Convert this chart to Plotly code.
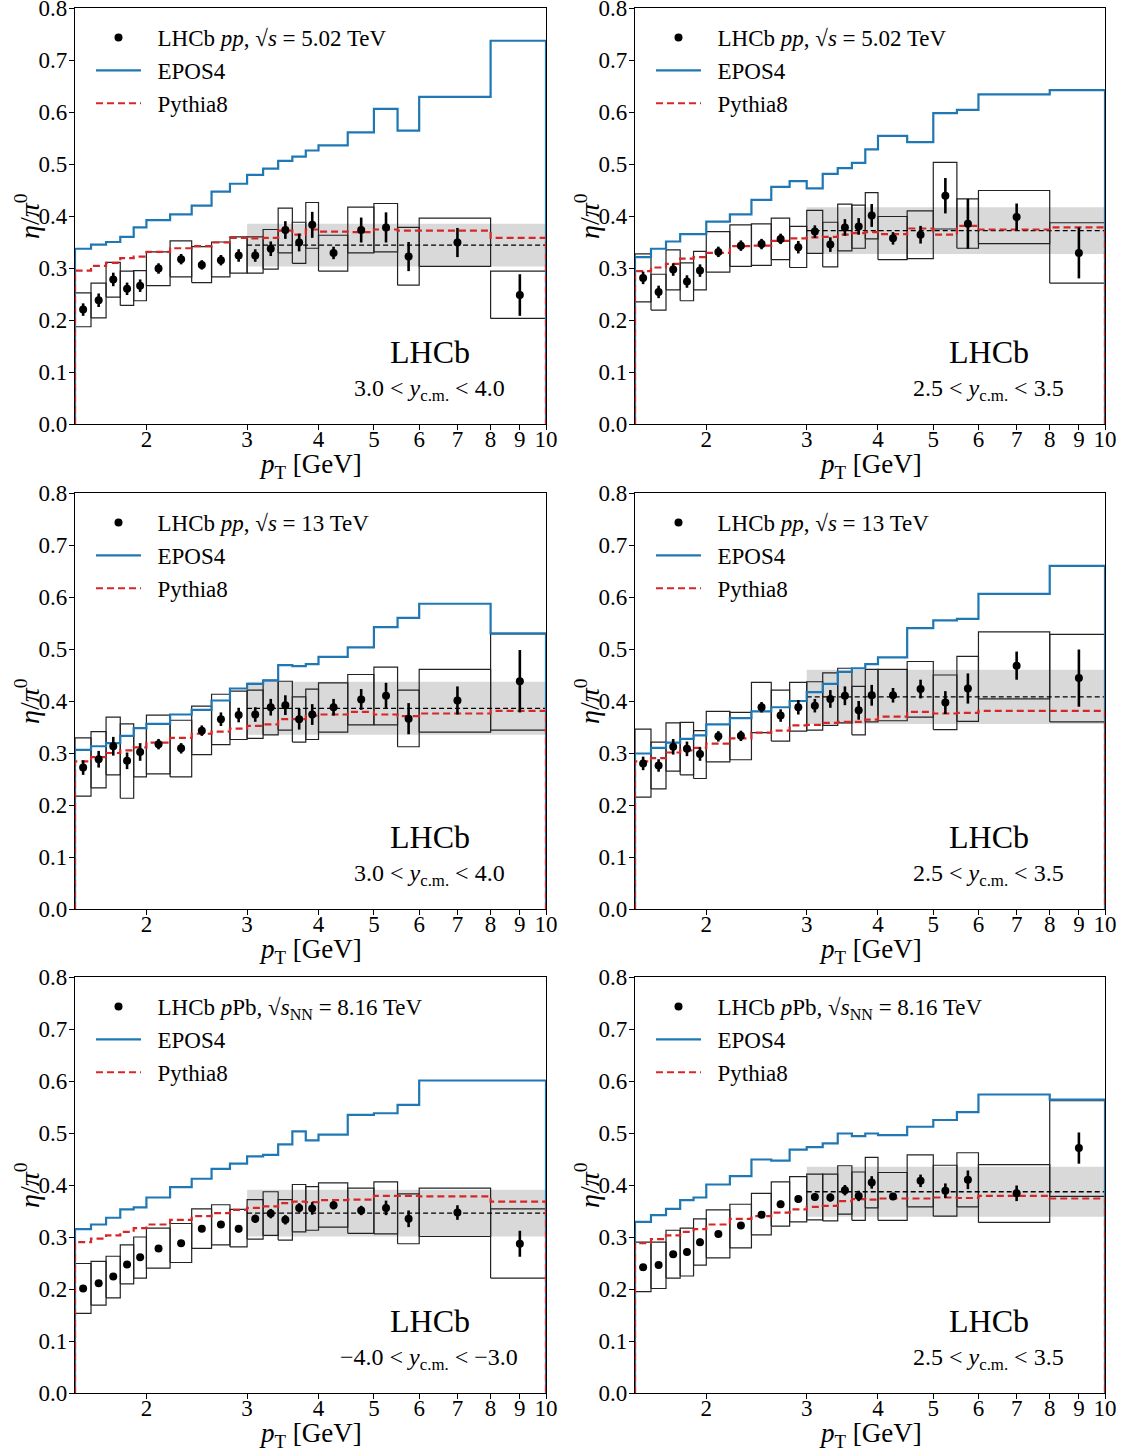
import math
import plotly.graph_objects as go

# ---------------- data ----------------
edges = [1.5, 1.6, 1.7, 1.8, 1.9, 2.0, 2.2, 2.4, 2.6, 2.8, 3.0, 3.2, 3.4, 3.6, 3.8, 4.0, 4.5, 5.0, 5.5, 6.0, 8.0, 10.0]
centers = [1.55, 1.65, 1.75, 1.85, 1.95, 2.1, 2.3, 2.5, 2.7, 2.9, 3.1, 3.3, 3.5, 3.7, 3.9, 4.25, 4.75, 5.25, 5.75, 7.0, 9.0]
x_tick_vals = [2, 3, 4, 5, 6, 7, 8, 9, 10]
x_tick_text = ["2", "3", "4", "5", "6", "7", "8", "9", "10"]
y_tick_vals = [0.0, 0.1, 0.2, 0.3, 0.4, 0.5, 0.6, 0.7, 0.8]
fit_range = [3.0, 10.0]

x_title = "<i>p</i><sub>T</sub> [GeV]"
y_title = "<i>η</i>/<i>π</i><sup>0</sup>"
legend_labels = [
    "&nbsp;&nbsp;LHCb <i>pp</i>, √<i>s</i> = 5.02 TeV",
    "&nbsp;&nbsp;LHCb <i>pp</i>, √<i>s</i> = 5.02 TeV",
    "&nbsp;&nbsp;LHCb <i>pp</i>, √<i>s</i> = 13 TeV",
    "&nbsp;&nbsp;LHCb <i>pp</i>, √<i>s</i> = 13 TeV",
    "&nbsp;&nbsp;LHCb <i>p</i>Pb, √<i>s</i><sub>NN</sub> = 8.16 TeV",
    "&nbsp;&nbsp;LHCb <i>p</i>Pb, √<i>s</i><sub>NN</sub> = 8.16 TeV",
]
model_labels = ["&nbsp;&nbsp;EPOS4", "&nbsp;&nbsp;Pythia8"]
rapidity_labels = [
    "3.0 &lt; <i>y</i><sub>c.m.</sub> &lt; 4.0",
    "2.5 &lt; <i>y</i><sub>c.m.</sub> &lt; 3.5",
    "3.0 &lt; <i>y</i><sub>c.m.</sub> &lt; 4.0",
    "2.5 &lt; <i>y</i><sub>c.m.</sub> &lt; 3.5",
    "−4.0 &lt; <i>y</i><sub>c.m.</sub> &lt; −3.0",
    "2.5 &lt; <i>y</i><sub>c.m.</sub> &lt; 3.5",
]

# panel 1: pp 5.02 TeV, 3.0<y<4.0
val_1 = [0.220, 0.238, 0.278, 0.260, 0.266, 0.299, 0.317, 0.306, 0.315, 0.324, 0.324, 0.337, 0.373, 0.349, 0.383, 0.329, 0.373, 0.378, 0.322, 0.349, 0.248]
stat_1 = [0.012, 0.013, 0.013, 0.012, 0.012, 0.010, 0.010, 0.009, 0.010, 0.012, 0.012, 0.014, 0.017, 0.017, 0.025, 0.012, 0.024, 0.029, 0.028, 0.028, 0.040]
syst_hi_1 = [0.252, 0.271, 0.311, 0.294, 0.295, 0.331, 0.352, 0.341, 0.350, 0.360, 0.360, 0.374, 0.415, 0.388, 0.426, 0.363, 0.417, 0.424, 0.378, 0.396, 0.294]
syst_lo_1 = [0.187, 0.204, 0.244, 0.228, 0.237, 0.266, 0.283, 0.272, 0.283, 0.290, 0.290, 0.298, 0.329, 0.309, 0.338, 0.294, 0.329, 0.331, 0.267, 0.303, 0.203]
epos_1 = [0.337, 0.345, 0.350, 0.360, 0.378, 0.392, 0.403, 0.420, 0.447, 0.462, 0.479, 0.491, 0.506, 0.514, 0.526, 0.536, 0.561, 0.606, 0.564, 0.629, 0.737]
pythia_1 = [0.295, 0.304, 0.310, 0.319, 0.322, 0.331, 0.338, 0.342, 0.349, 0.358, 0.357, 0.358, 0.372, 0.364, 0.374, 0.370, 0.369, 0.374, 0.372, 0.372, 0.358]

# panel 2: pp 5.02 TeV, 2.5<y<3.5
val_2 = [0.281, 0.254, 0.297, 0.274, 0.295, 0.331, 0.343, 0.346, 0.356, 0.340, 0.370, 0.345, 0.378, 0.380, 0.401, 0.357, 0.364, 0.439, 0.385, 0.398, 0.329]
stat_2 = [0.012, 0.012, 0.012, 0.012, 0.012, 0.010, 0.010, 0.010, 0.010, 0.012, 0.012, 0.014, 0.016, 0.016, 0.022, 0.012, 0.017, 0.034, 0.048, 0.026, 0.049]
syst_hi_2 = [0.327, 0.288, 0.335, 0.310, 0.332, 0.370, 0.383, 0.385, 0.396, 0.380, 0.411, 0.388, 0.423, 0.421, 0.445, 0.399, 0.410, 0.503, 0.433, 0.449, 0.387]
syst_lo_2 = [0.235, 0.219, 0.258, 0.237, 0.258, 0.292, 0.303, 0.305, 0.316, 0.301, 0.328, 0.302, 0.333, 0.338, 0.356, 0.316, 0.318, 0.375, 0.338, 0.347, 0.271]
epos_2 = [0.321, 0.337, 0.351, 0.365, 0.365, 0.389, 0.403, 0.431, 0.456, 0.467, 0.453, 0.481, 0.492, 0.502, 0.528, 0.554, 0.542, 0.598, 0.604, 0.634, 0.642]
pythia_2 = [0.294, 0.301, 0.308, 0.318, 0.321, 0.329, 0.342, 0.343, 0.352, 0.357, 0.359, 0.360, 0.364, 0.367, 0.369, 0.365, 0.376, 0.364, 0.381, 0.374, 0.378]

# panel 3: pp 13 TeV, 3.0<y<4.0
val_3 = [0.272, 0.288, 0.313, 0.285, 0.302, 0.317, 0.309, 0.343, 0.365, 0.373, 0.374, 0.388, 0.392, 0.365, 0.374, 0.388, 0.403, 0.410, 0.366, 0.401, 0.438]
stat_3 = [0.014, 0.016, 0.018, 0.016, 0.017, 0.010, 0.010, 0.010, 0.013, 0.014, 0.014, 0.016, 0.019, 0.020, 0.020, 0.016, 0.020, 0.025, 0.030, 0.027, 0.060]
syst_hi_3 = [0.329, 0.341, 0.369, 0.356, 0.348, 0.373, 0.363, 0.390, 0.413, 0.419, 0.421, 0.440, 0.438, 0.408, 0.423, 0.435, 0.451, 0.465, 0.421, 0.461, 0.529]
syst_lo_3 = [0.217, 0.233, 0.258, 0.213, 0.254, 0.260, 0.254, 0.297, 0.316, 0.326, 0.328, 0.335, 0.344, 0.321, 0.326, 0.340, 0.354, 0.354, 0.312, 0.340, 0.344]
epos_3 = [0.306, 0.313, 0.319, 0.333, 0.348, 0.356, 0.374, 0.383, 0.401, 0.424, 0.433, 0.439, 0.469, 0.467, 0.471, 0.485, 0.503, 0.542, 0.560, 0.587, 0.530]
pythia_3 = [0.284, 0.292, 0.300, 0.305, 0.311, 0.320, 0.329, 0.337, 0.341, 0.347, 0.352, 0.355, 0.365, 0.365, 0.372, 0.374, 0.379, 0.374, 0.371, 0.376, 0.381]

# panel 4: pp 13 TeV, 2.5<y<3.5
val_4 = [0.280, 0.276, 0.312, 0.308, 0.298, 0.332, 0.333, 0.388, 0.372, 0.388, 0.391, 0.404, 0.410, 0.382, 0.411, 0.411, 0.423, 0.397, 0.424, 0.468, 0.444]
stat_4 = [0.013, 0.012, 0.015, 0.014, 0.013, 0.010, 0.010, 0.010, 0.012, 0.014, 0.013, 0.017, 0.018, 0.018, 0.020, 0.014, 0.018, 0.022, 0.029, 0.027, 0.055]
syst_hi_4 = [0.346, 0.321, 0.358, 0.359, 0.343, 0.380, 0.378, 0.436, 0.421, 0.436, 0.437, 0.454, 0.463, 0.428, 0.461, 0.461, 0.476, 0.450, 0.486, 0.533, 0.528]
syst_lo_4 = [0.215, 0.231, 0.265, 0.258, 0.251, 0.283, 0.287, 0.339, 0.323, 0.342, 0.344, 0.353, 0.358, 0.335, 0.360, 0.362, 0.369, 0.345, 0.361, 0.404, 0.360]
epos_4 = [0.299, 0.310, 0.320, 0.327, 0.334, 0.355, 0.367, 0.380, 0.388, 0.400, 0.417, 0.433, 0.456, 0.463, 0.471, 0.484, 0.540, 0.555, 0.558, 0.606, 0.660]
pythia_4 = [0.284, 0.290, 0.301, 0.305, 0.310, 0.318, 0.328, 0.339, 0.343, 0.353, 0.354, 0.358, 0.360, 0.360, 0.364, 0.370, 0.379, 0.376, 0.377, 0.381, 0.381]

# panel 5: pPb 8.16 TeV, -4.0<y<-3.0
val_5 = [0.201, 0.211, 0.224, 0.247, 0.261, 0.278, 0.288, 0.316, 0.324, 0.316, 0.335, 0.345, 0.333, 0.356, 0.355, 0.361, 0.351, 0.356, 0.335, 0.347, 0.287]
stat_5 = [0.005, 0.005, 0.005, 0.006, 0.006, 0.005, 0.005, 0.006, 0.006, 0.007, 0.008, 0.009, 0.009, 0.009, 0.012, 0.008, 0.009, 0.014, 0.016, 0.014, 0.025]
syst_hi_5 = [0.249, 0.253, 0.263, 0.285, 0.300, 0.317, 0.326, 0.354, 0.362, 0.353, 0.372, 0.387, 0.372, 0.401, 0.397, 0.404, 0.394, 0.406, 0.383, 0.394, 0.354]
syst_lo_5 = [0.153, 0.169, 0.183, 0.210, 0.221, 0.240, 0.251, 0.278, 0.285, 0.281, 0.296, 0.303, 0.294, 0.310, 0.313, 0.319, 0.307, 0.306, 0.287, 0.301, 0.221]
epos_5 = [0.315, 0.324, 0.337, 0.353, 0.357, 0.376, 0.396, 0.412, 0.431, 0.441, 0.455, 0.458, 0.478, 0.503, 0.486, 0.497, 0.535, 0.538, 0.554, 0.601, 0.601]
pythia_5 = [0.290, 0.297, 0.303, 0.310, 0.317, 0.324, 0.333, 0.340, 0.346, 0.352, 0.356, 0.359, 0.365, 0.368, 0.367, 0.371, 0.372, 0.379, 0.379, 0.378, 0.368]

# panel 6: pPb 8.16 TeV, 2.5<y<3.5
val_6 = [0.242, 0.246, 0.267, 0.271, 0.290, 0.306, 0.322, 0.343, 0.363, 0.373, 0.377, 0.376, 0.390, 0.379, 0.405, 0.378, 0.408, 0.389, 0.410, 0.384, 0.471]
stat_6 = [0.006, 0.006, 0.006, 0.006, 0.007, 0.005, 0.005, 0.006, 0.007, 0.007, 0.007, 0.008, 0.010, 0.010, 0.012, 0.007, 0.012, 0.014, 0.018, 0.015, 0.030]
syst_hi_6 = [0.290, 0.290, 0.313, 0.317, 0.335, 0.352, 0.363, 0.384, 0.406, 0.416, 0.421, 0.421, 0.437, 0.425, 0.453, 0.424, 0.458, 0.438, 0.462, 0.439, 0.562]
syst_lo_6 = [0.195, 0.201, 0.221, 0.225, 0.246, 0.260, 0.279, 0.304, 0.321, 0.329, 0.333, 0.331, 0.344, 0.332, 0.356, 0.332, 0.358, 0.340, 0.358, 0.328, 0.378]
epos_6 = [0.329, 0.342, 0.354, 0.371, 0.376, 0.401, 0.417, 0.449, 0.447, 0.468, 0.473, 0.480, 0.499, 0.494, 0.499, 0.496, 0.512, 0.525, 0.540, 0.574, 0.564]
pythia_6 = [0.288, 0.296, 0.303, 0.310, 0.315, 0.324, 0.335, 0.340, 0.347, 0.353, 0.358, 0.360, 0.369, 0.373, 0.372, 0.374, 0.374, 0.376, 0.375, 0.379, 0.374]

# constant fit (high pT) value and its uncertainty for each panel
fit_val = [0.344, 0.372, 0.386, 0.408, 0.346, 0.387]
fit_err = [0.041, 0.045, 0.051, 0.052, 0.045, 0.048]

vals = [val_1, val_2, val_3, val_4, val_5, val_6]
stats = [stat_1, stat_2, stat_3, stat_4, stat_5, stat_6]
syst_his = [syst_hi_1, syst_hi_2, syst_hi_3, syst_hi_4, syst_hi_5, syst_hi_6]
syst_los = [syst_lo_1, syst_lo_2, syst_lo_3, syst_lo_4, syst_lo_5, syst_lo_6]
epos = [epos_1, epos_2, epos_3, epos_4, epos_5, epos_6]
pythia = [pythia_1, pythia_2, pythia_3, pythia_4, pythia_5, pythia_6]

# ---------------- layout geometry ----------------
W, H = 1125, 1456
col_px = [(75, 546), (635, 1105)]
row_px = [(8, 424), (493, 909), (977, 1393)]

FONT = "Liberation Serif"
BLUE = "#1f77b4"
RED = "#d62728"

fig = go.Figure()


def stairs(e, v):
    xs = [e[0]] + list(e) + [e[-1]]
    ys = [0.0] + list(v) + [v[-1], 0.0]
    return xs, ys


layout_axes = {}
annotations = []
for i in range(6):
    r, c = divmod(i, 2)
    n = i + 1
    xa = "x" if n == 1 else f"x{n}"
    ya = "y" if n == 1 else f"y{n}"
    lg = "legend" if n == 1 else f"legend{n}"
    x0p, x1p = col_px[c]
    y0p, y1p = row_px[r]
    xdom = [x0p / W, x1p / W]
    ydom = [1 - y1p / H, 1 - y0p / H]
    wpx, hpx = x1p - x0p, y1p - y0p

    # fit band
    fv, fe = fit_val[i], fit_err[i]
    fig.add_trace(go.Scatter(
        x=[fit_range[0], fit_range[1], fit_range[1], fit_range[0], fit_range[0]],
        y=[fv - fe, fv - fe, fv + fe, fv + fe, fv - fe],
        mode="lines", fill="toself", fillcolor="#d9d9d9", line=dict(width=0, color="#d9d9d9"),
        hoverinfo="skip", showlegend=False, xaxis=xa, yaxis=ya))

    # systematic boxes
    bx, by = [], []
    for k in range(len(centers)):
        lo, hi = syst_los[i][k], syst_his[i][k]
        a, b = edges[k], edges[k + 1]
        bx += [a, b, b, a, a, None]
        by += [lo, lo, hi, hi, lo, None]
    fig.add_trace(go.Scatter(
        x=bx, y=by, mode="lines", line=dict(color="#222222", width=1.2),
        hoverinfo="skip", showlegend=False, xaxis=xa, yaxis=ya))

    # fit central value
    fig.add_trace(go.Scatter(
        x=fit_range, y=[fv, fv], mode="lines",
        line=dict(color="black", width=1.3, dash="5px,3px"),
        hoverinfo="skip", showlegend=False, xaxis=xa, yaxis=ya))

    # EPOS4
    sx, sy = stairs(edges, epos[i])
    fig.add_trace(go.Scatter(
        x=sx, y=sy, mode="lines", line=dict(color=BLUE, width=2.2, shape="hv"),
        name=model_labels[0], legend=lg, legendgroup="b", legendrank=2, showlegend=True,
        xaxis=xa, yaxis=ya))

    # Pythia8
    sx, sy = stairs(edges, pythia[i])
    fig.add_trace(go.Scatter(
        x=sx, y=sy, mode="lines", line=dict(color=RED, width=2.2, shape="hv", dash="7px,4px"),
        name=model_labels[1], legend=lg, legendgroup="c", legendrank=3, showlegend=True,
        xaxis=xa, yaxis=ya))

    # data
    fig.add_trace(go.Scatter(
        x=centers, y=vals[i], mode="markers",
        marker=dict(color="black", size=8),
        error_y=dict(type="data", array=stats[i], color="black", thickness=2.6, width=0),
        name=legend_labels[i], legend=lg, legendgroup="a", legendrank=1, showlegend=True,
        xaxis=xa, yaxis=ya))

    xkey = "xaxis" if n == 1 else f"xaxis{n}"
    ykey = "yaxis" if n == 1 else f"yaxis{n}"
    layout_axes[xkey] = dict(
        type="log", range=[math.log10(edges[0]), math.log10(edges[-1])], domain=xdom, anchor=ya,
        tickvals=x_tick_vals, ticktext=x_tick_text, ticks="outside", ticklen=5, tickwidth=1,
        tickcolor="black", showline=True, linecolor="black", linewidth=1.2, mirror=True,
        showgrid=False, zeroline=False, automargin=False, ticklabelstandoff=-11,
        ticklabeloverflow="allow",
        tickfont=dict(family=FONT, size=23, color="black"),
    )
    layout_axes[ykey] = dict(
        range=[0, 0.8], domain=ydom, anchor=xa,
        tickvals=y_tick_vals, ticktext=[f"{v:.1f}" for v in y_tick_vals],
        ticks="outside", ticklen=5, tickwidth=1, tickcolor="black",
        showline=True, linecolor="black", linewidth=1.2, mirror=True,
        showgrid=False, zeroline=False, layer="below traces", automargin=False,
        ticklabelstandoff=-3, ticklabeloverflow="allow",
        tickfont=dict(family=FONT, size=23, color="black"),
    )
    layout_axes[lg] = dict(
        x=(x0p + 16) / W, y=1 - (y0p + 8) / H, xanchor="left", yanchor="top",
        bgcolor="rgba(0,0,0,0)", borderwidth=0, traceorder="grouped", tracegroupgap=0,
        itemwidth=45, font=dict(family=FONT, size=23, color="black"),
    )
    # axis titles
    annotations.append(dict(
        text=x_title, xref=f"{xa} domain", yref=f"{ya} domain", x=0.5, y=-42 / hpx,
        showarrow=False, font=dict(family=FONT, size=27, color="black"), xanchor="center", yanchor="middle"))
    annotations.append(dict(
        text=y_title, xref=f"{xa} domain", yref=f"{ya} domain", x=-48 / wpx, y=0.5, textangle=-90,
        showarrow=False, font=dict(family=FONT, size=28, color="black"), xanchor="center", yanchor="middle"))
    # experiment label and rapidity range
    annotations.append(dict(
        text="LHCb", xref=f"{xa} domain", yref=f"{ya} domain", x=0.754, y=0.173,
        showarrow=False, font=dict(family=FONT, size=32, color="black"), xanchor="center", yanchor="middle"))
    annotations.append(dict(
        text=rapidity_labels[i], xref=f"{xa} domain", yref=f"{ya} domain", x=0.752, y=0.082,
        showarrow=False, font=dict(family=FONT, size=24, color="black"), xanchor="center", yanchor="middle"))

fig.update_layout(
    width=W, height=H, margin=dict(l=0, r=0, t=0, b=0, autoexpand=False),
    paper_bgcolor="white", plot_bgcolor="white",
    annotations=annotations, **layout_axes,
)

fig.write_html("out.html", config={"displayModeBar": False},
               post_script="document.body.style.margin='0px';")
